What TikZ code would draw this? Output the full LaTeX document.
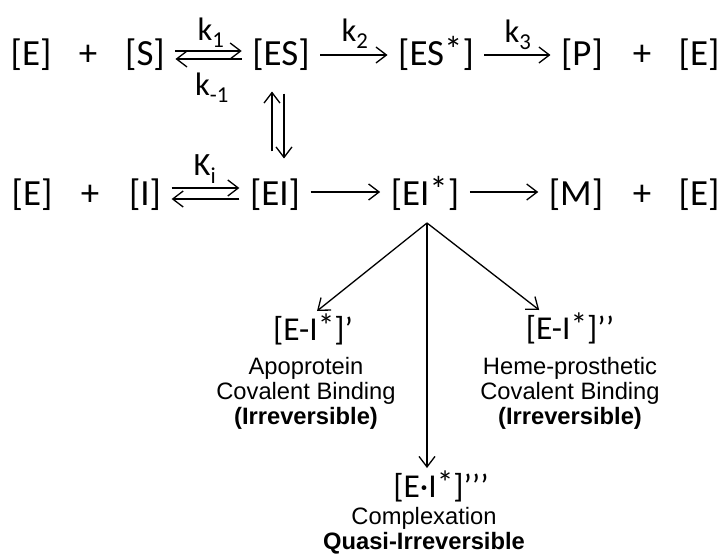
\documentclass[tikz,border=0pt]{standalone}
\usepackage{fontspec}
\setmainfont{Carlito}
\newfontfamily\notefont{Liberation Sans}
\usetikzlibrary{arrows.meta}
\newcommand{\excited}{\smash{\raisebox{0.1em}{*}}}

\begin{document}
\begin{tikzpicture}[
		scale=1,
		line width=1.5pt,
		>={Straight Barb[length=0.42cm, width=0.64cm]},
		every node/.style={inner xsep=0.4cm, inner ysep=0.8cm, font=\fontsize{42}{48}\selectfont},
		rate/.style={inner sep=0cm, font=\fontsize{37}{40}\selectfont},
		species/.style={inner sep=0.2cm, font=\fontsize{38}{44}\selectfont},
		note/.style={inner sep=0cm, align=center, font=\notefont\fontsize{27}{28.5}\selectfont}
	]
  \useasboundingbox (0cm, 0cm) rectangle (28.8cm, -22.2cm);
  % substrate route
  \node (E_1) at (1.24cm, -2.2cm) {[E]};
  \node (plus_1) at (3.52cm, -2.2cm) {+};
  \node (S) at (5.8cm, -2.2cm) {[S]};
  \node (ES) at (11.24cm, -2.2cm) {[ES]};
  \node (ES_star) at (17.44cm, -2.2cm) {[ES\excited]};
  \node (P) at (23.28cm, -2.2cm) {[P]};
  \node (plus_2) at (25.68cm, -2.2cm) {+};
  \node (E_2) at (27.96cm, -2.2cm) {[E]};
  \node (k_1) [rate] at (8.44cm, -1.3cm) {k\textsubscript{1}};
  \node (k_m1) [rate] at (8.48cm, -3.52cm) {k\textsubscript{-1}};
  \node (k_2) [rate] at (14.2cm, -1.34cm) {k\textsubscript{2}};
  \node (k_3) [rate] at (20.72cm, -1.4cm) {k\textsubscript{3}};
  \draw [->] ([yshift=0.16cm]S.east) -- ([yshift=0.16cm]ES.west);
  \draw [->] ([yshift=-0.16cm]ES.west) -- ([yshift=-0.16cm]S.east);
  \draw [->] (ES) -- (ES_star);
  \draw [->] (ES_star) -- (P);

  % inhibitor route
  \node (E_3) at (1.28cm, -7.8cm) {[E]};
  \node (plus_3) at (3.6cm, -7.8cm) {+};
  \node (I) at (5.8cm, -7.8cm) {[I]};
  \node (EI) at (11cm, -7.8cm) {[EI]};
  \node (EI_star) at (17cm, -7.8cm) {[EI\excited]};
  \node (M) at (23.04cm, -7.8cm) {[M]};
  \node (plus_4) at (25.68cm, -7.8cm) {+};
  \node (E_4) at (27.96cm, -7.8cm) {[E]};
  \node (K_i) [rate] at (8.2cm, -6.76cm) {K\textsubscript{i}};
  \draw [->] ([yshift=0.28cm]I.east) -- ([yshift=0.28cm]EI.west);
  \draw [->] ([yshift=-0.16cm]EI.west) -- ([yshift=-0.16cm]I.east);
  \draw [->] ([yshift=0.12cm]EI.east) -- ([yshift=0.12cm]EI_star.west);
  \draw [->] ([yshift=0.12cm]EI_star.east) -- ([yshift=0.12cm]M.west);
  \draw [->] ([xshift=-0.12cm, yshift=0.28cm]EI.north) -- ([xshift=-0.12cm]EI.north |- ES.south);
  \draw [->] ([xshift=0.36cm, yshift=-0.08cm]EI.north |- ES.south) -- ([xshift=0.36cm]EI.north);

  % inactivated forms
  \coordinate (fork) at (17.08cm, -8.92cm);
  \node (EI_1) [species] at (12.52cm, -13.24cm) {[E-I\excited]’};
  \node (EI_2) [species] at (22.8cm, -13.2cm) {[E-I\excited]’’};
  \node (EI_3) [species] at (17.64cm, -19.52cm) {[E·I\excited]’’’};
  \node (note_1) [note] at (12.24cm, -15.72cm) {Apoprotein\\Covalent Binding\\\textbf{(Irreversible)}};
  \node (note_2) [note] at (22.8cm, -15.72cm) {Heme-prosthetic\\Covalent Binding\\\textbf{(Irreversible)}};
  \node (note_3) [note] at (16.96cm, -21.24cm) {Complexation\\\textbf{Quasi-Irreversible}};
  \draw [->] (fork) -- ([xshift=0.16cm]EI_1.north);
  \draw [->] (fork) -- ([xshift=0.76cm]EI_2.north west);
  \draw [->] (fork) -- (fork |- EI_3.north);
\end{tikzpicture}
\end{document}
